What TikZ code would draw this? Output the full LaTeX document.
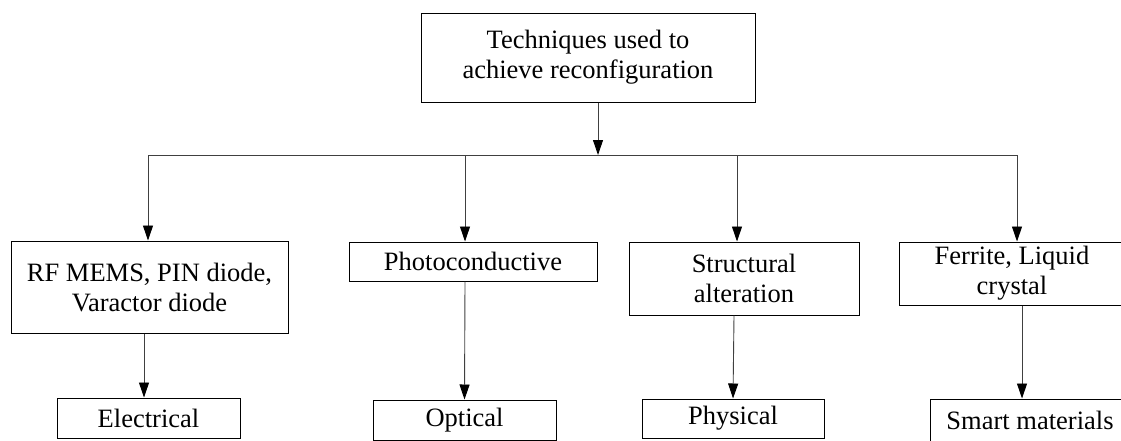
\documentclass[tikz,border=0pt]{standalone}
\usepackage{fontspec}
\setmainfont{Liberation Serif}
\usetikzlibrary{arrows.meta}
\begin{document}
\begin{tikzpicture}[x=1pt,y=-1pt,
  box/.style={draw=black,line width=1pt,inner sep=0pt,align=center,
    font=\fontsize{26.5}{30}\selectfont},
  link/.style={draw=black!75,line width=0.9pt},
  arr/.style={link,-{Triangle[length=15pt,width=10pt,color=black]}}]
\useasboundingbox (0,0) rectangle (1121,440);
% top
\node[box,minimum width=334pt,minimum height=89pt] (top) at (588,57.5) {Techniques used to\\achieve reconfiguration};
% middle row
\node[box,minimum width=277pt,minimum height=92pt] (A) at (149.5,287) {RF MEMS, PIN diode,\\Varactor diode};
\node[box,minimum width=248pt,minimum height=39pt] (B) at (473,261.5) {Photoconductive};
\node[box,minimum width=230pt,minimum height=73pt] (C) at (744,278.5) {Structural\\alteration};
\node[box,minimum width=226pt,minimum height=63pt] (D) at (1012,273.5) {Ferrite, Liquid\\crystal};
% bottom row
\node[box,minimum width=183pt,minimum height=40pt] (E) at (148.5,418) {Electrical};
\node[box,minimum width=183pt,minimum height=40pt] (O) at (464.5,420) {Optical};
\node[box,minimum width=182pt,minimum height=39pt] (P) at (733,418.5) {Physical};
\node[box,minimum width=200pt,minimum height=43pt] (S) at (1030,420.5) {Smart materials};
% bus
\coordinate (j) at (598,155);
\coordinate (b1) at (148,155);
\coordinate (b2) at (465,155);
\coordinate (b3) at (737,155);
\coordinate (b4) at (1017,155);
\draw[arr] (top.south -| j) -- (j);
\draw[link] (b1) -- (b4);
\draw[arr] (b1) -- (b1 |- A.north);
\draw[arr] (b2) -- (b2 |- B.north);
\draw[arr] (b3) -- (b3 |- C.north);
\draw[arr] (b4) -- (b4 |- D.north);
% lower connectors
\draw[arr] ([xshift=-5.5pt]A.south) -- ([xshift=-4.5pt]E.north);
\draw[arr] ([xshift=-8pt]B.south) -- (O.north);
\draw[arr] ([xshift=-10pt]C.south) -- (P.north);
\draw[arr] ([xshift=10pt]D.south) -- ([xshift=-8pt]S.north);
\end{tikzpicture}
\end{document}
